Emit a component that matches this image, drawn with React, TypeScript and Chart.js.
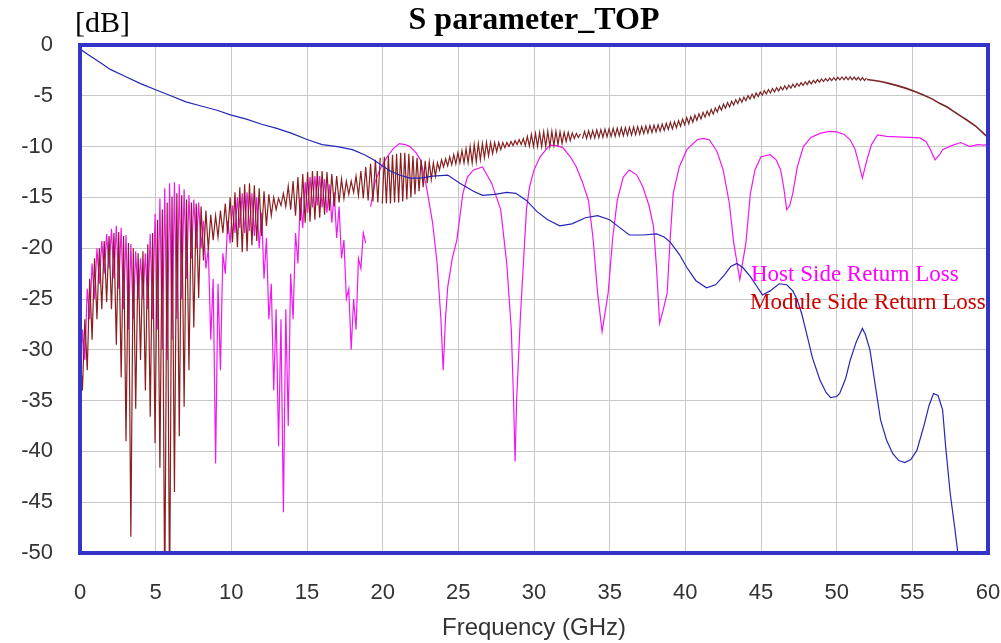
import { useEffect, useRef } from "react";
import { Chart, registerables } from "chart.js";

Chart.register(...registerables);

const titleText = "S parameter_TOP";
const unitLabel = "[dB]";
const xAxisTitle = "Frequency (GHz)";
const hostLabel = "Host Side Return Loss";
const moduleLabel = "Module Side Return Loss";

const xTickValues = [0, 5, 10, 15, 20, 25, 30, 35, 40, 45, 50, 55, 60];
const yTickValues = [0, -5, -10, -15, -20, -25, -30, -35, -40, -45, -50];

// Insertion loss (blue)
const lossFreq = [
  0, 0.1, 0.5, 1, 1.5, 2, 3, 4, 5, 6, 7, 8, 9, 10, 11, 12, 13, 14, 15, 16, 17, 18, 18.8, 19.4, 20,
  20.5, 21.1, 21.8, 22.5, 23.3, 24.3, 25.1, 26, 26.6, 27.4, 28.2, 28.8, 29.5, 30.2, 30.9, 31.7, 32.5,
  33.4, 34.2, 35, 35.6, 36.3, 37.2, 38.1, 38.6, 39, 39.6, 40.1, 40.7, 41.4, 42, 42.6, 43, 43.4, 43.8,
  44.3, 44.7, 45.1, 45.6, 46.2, 46.7, 47.1, 47.4, 47.7, 48, 48.4, 48.9, 49.3, 49.6, 50, 50.2, 50.6,
  50.9, 51.3, 51.7, 51.9, 52.2, 52.5, 52.9, 53.3, 53.7, 54.1, 54.5, 54.9, 55.3, 55.8, 56.1, 56.4,
  56.7, 57, 57.2, 57.5, 57.8, 58, 58.2,
];
const lossDb = [
  -0.3, -0.5, -0.9, -1.4, -1.9, -2.4, -3.1, -3.8, -4.4, -5.0, -5.6, -6.0, -6.4, -6.9, -7.3, -7.8, -8.2,
  -8.7, -9.3, -9.8, -10.0, -10.3, -10.8, -11.3, -11.9, -12.4, -12.8, -13.1, -13.1, -12.9, -12.8,
  -13.6, -14.4, -14.8, -14.7, -14.5, -14.6, -15.3, -16.4, -17.2, -17.8, -17.6, -17.0, -16.8, -17.2,
  -17.9, -18.7, -18.7, -18.6, -18.9, -19.4, -20.6, -21.9, -23.2, -23.9, -23.6, -22.6, -21.8, -21.5,
  -21.9, -22.8, -23.7, -24.6, -24.2, -23.5, -23.6, -24.2, -25.1, -26.5, -28.3, -30.8, -33, -34.2,
  -34.7, -34.6, -34.3, -32.8, -31, -29.2, -27.9, -28.5, -30, -33, -36.9, -38.9, -40.2, -40.9, -41.1,
  -40.8, -39.9, -37.3, -35.5, -34.3, -34.5, -35.9, -39.5, -44.1, -47.5, -49.9, -52,
];

// Module side return loss (dark red): dense ripple, sampled peak / dip
const moduleLowStart = 0;
const moduleLowStep = 0.16;
const moduleLowDb = [
  -30, -34, -27, -32, -23, -29, -21, -27, -20, -26, -19.3, -25.3, -18.8, -26, -18.5, -29.5,
  -18.4, -32.7, -18.8, -39, -19.5, -48.4, -20, -35.8, -20.5, -31, -20.3, -34, -19.6, -36.6,
  -18.5, -39.2, -17.2, -41.6, -16.2, -55, -15.5, -55, -14.9, -44, -14.6, -38.5, -14.8, -35.6,
  -15.2, -32, -15.5, -27.8, -15.6, -24.9, -15.9, -21.2, -16.3, -20.2, -16.7, -19.2, -16.8, -18.9,
  -16.3, -18.5, -15.6, -18.6, -15, -19.4, -14.5, -19.9, -14, -20.4, -13.7, -20.3, -13.6, -19.7,
  -13.8, -19.3, -14.1, -18.8, -14.4, -17.8, -14.7, -16.8, -15, -16.2, -15.1, -15.8, -14.6, -15.9,
  -13.9, -16.2, -13.4, -16.8, -13, -17.3, -12.7, -17.5, -12.5, -17.4, -12.4, -17.2, -12.4, -17,
  -12.4, -16.7, -12.5, -16.3, -12.7, -15.9, -12.9, -15.5, -13.2, -15.1, -13.4, -14.7, -13.4, -14.5,
  -12.9, -14.8, -12.4, -15.1, -12, -15.3, -11.7, -15.4, -11.3, -15.5, -11.1,
];
const moduleHighStart = 19.975;
const moduleHighStep = 0.135;
const moduleHighDb = [
  -15.6, -11, -15.6, -10.9, -15.6, -10.8, -15.5, -10.7, -15.5, -10.6, -15.4, -10.6, -15.2, -10.7,
  -15, -10.9, -14.7, -11.1, -14.4, -11.3, -14, -11.4, -13.6, -11.5, -13.2, -11.6, -12.9, -11.6,
  -12.3, -11.3, -12, -11.2, -11.9, -11, -11.8, -10.8, -11.7, -10.6, -11.6, -10.4, -11.6, -10.2,
  -11.6, -10, -11.6, -9.8, -11.5, -9.7, -11.3, -9.7, -11.1, -9.6, -10.9, -9.6, -10.7, -9.6,
  -10.5, -9.6, -10.3, -9.6, -10.1, -9.6, -10, -9.5, -9.9, -9.4, -9.8, -9.3, -9.8, -9.2,
  -9.9, -9, -9.95, -8.8, -10, -8.7, -10, -8.6, -10, -8.55, -10, -8.5, -10, -8.5,
  -9.9, -8.5, -9.8, -8.55, -9.7, -8.6, -9.5, -8.6, -9.4, -8.65, -9.2, -8.7, -9.1, -8.75,
];
const moduleMidStart = 33.205;
const moduleMidStep = 0.135;
const moduleMidDb = [
  -9.2, -8.5, -9.2, -8.45, -9.18, -8.42, -9.15, -8.35, -9.12, -8.32, -9.08, -8.28, -9.05, -8.25,
  -9.0, -8.2, -8.98, -8.18, -8.95, -8.15, -8.93, -8.13, -8.9, -8.1, -8.87, -8.07, -8.83, -8.03,
  -8.78, -8.02, -8.72, -7.98, -8.67, -7.93, -8.62, -7.88, -8.55, -7.85, -8.48, -7.78, -8.4, -7.7,
  -8.32, -7.62, -8.25, -7.55, -8.15, -7.45, -8.0, -7.3, -7.85, -7.15, -7.75, -7.05, -7.6, -6.9,
  -7.42, -6.78, -7.27, -6.63, -7.1, -6.5, -6.95, -6.35, -6.8, -6.2, -6.6, -6.0, -6.42, -5.82,
  -6.23, -5.67, -6.1, -5.54, -5.92, -5.38, -5.76, -5.24, -5.63, -5.13, -5.48, -4.98, -5.33, -4.83,
  -5.22, -4.72, -5.08, -4.62, -4.95, -4.49, -4.82, -4.38, -4.72, -4.28, -4.63, -4.21, -4.52, -4.12,
  -4.42, -4.02, -4.35, -3.95, -4.24, -3.86, -4.16, -3.78, -4.06, -3.7, -3.98, -3.62, -3.9, -3.54,
  -3.82, -3.48, -3.73, -3.41, -3.66, -3.34, -3.6, -3.3, -3.55, -3.25, -3.5, -3.22, -3.46, -3.18,
  -3.43, -3.15, -3.42, -3.14, -3.42, -3.14, -3.42, -3.16, -3.44, -3.18, -3.47, -3.21, -3.5, -3.24,
];
const moduleTailFreq = [
  52, 52.5, 53, 53.5, 54, 54.6, 55.2, 55.7, 56.3, 56.8, 57.3, 57.7, 58.2, 58.6, 59.2, 59.7, 60,
];
const moduleTailDb = [
  -3.4, -3.5, -3.62, -3.8, -4.0, -4.27, -4.6, -4.9, -5.3, -5.74, -6.1, -6.5, -7.0, -7.38, -8.0, -8.7,
  -9.1,
];

// Host side return loss (magenta)
const hostLowStart = 0;
const hostLowStep = 0.16;
const hostLowDb = [
  -36, -28, -31, -24, -27, -21.5, -25, -20, -23.5, -19.3, -22.5, -18.6, -22, -18.1, -23, -17.8,
  -24, -18, -26, -18.7, -28, -19.6, -27, -20.3, -25, -21, -25, -20.5, -26, -18.6, -27, -16.6,
  -28, -15.1, -30, -14.1, -31, -13.6, -29, -13.5, -27, -13.7, -25, -14.2, -23, -14.8, -21, -15.2,
  -20, -15.5, -20, -17.3, -22, -20, -29, -23, -41.2, -23.5, -32, -20.5, -22.5, -17.3, -19.5, -15.8,
  -18.5, -15, -18, -14.6, -18.5, -14.5, -18.3, -14.6, -18.8, -15, -20, -16.5, -23, -19, -27, -23.5,
  -34, -26, -39.5, -27, -46, -26, -37.5, -22.5, -27, -18.5, -21.5, -15, -18, -13.5, -16.5, -13,
  -16, -12.9, -15.8, -12.9, -16, -13.2, -16.5, -13.7, -17.5, -14.5, -19, -15.9, -21, -19.2, -25, -24,
  -30, -25, -28, -21, -22, -18.5, -19.5,
];
const hostTailFreq = [
  19.2, 19.5, 19.8, 20.3, 20.7, 21.1, 21.5, 21.8, 22.2, 22.5, 22.9, 23.3, 23.6, 23.85, 24, 24.15,
  24.3, 24.6, 24.9, 25.3, 25.6, 26, 26.6, 27.2, 27.8, 28.2, 28.5, 28.65, 28.75, 28.85, 29.1, 29.5,
  29.7, 30, 30.4, 30.9, 31.1, 31.5, 31.9, 32.4, 32.8, 33.2, 33.6, 33.9, 34.2, 34.5, 34.9, 35.2, 35.5,
  35.9, 36.3, 36.8, 37.2, 37.6, 37.9, 38.1, 38.3, 38.55, 38.8, 39, 39.2, 39.6, 40.1, 40.8, 41.2, 41.6,
  42.1, 42.5, 42.9, 43.2, 43.6, 44, 44.3, 44.6, 45, 45.6, 46, 46.3, 46.5, 46.7, 46.9, 47.1, 47.4,
  47.8, 48.3, 48.9, 49.5, 50, 50.5, 50.9, 51.2, 51.4, 51.7, 52, 52.3, 52.7, 53.3, 54, 54.8, 55.5,
  55.9, 56.2, 56.5, 56.8, 57, 57.6, 58.2, 58.8, 59.3, 59.7, 60,
];
const hostTailDb = [
  -15.9, -13.5, -12.3, -11, -10.2, -9.7, -9.8, -10, -10.6, -11.3, -14, -17.5, -21.5, -27, -32, -27,
  -23.8, -21, -19.2, -14.6, -13, -12.3, -12, -13.6, -16.2, -21.5, -28, -35, -41, -35, -26.8, -16.2,
  -14, -12.3, -11, -10.1, -9.85, -9.9, -10.1, -11, -12, -13.5, -15.3, -19, -24.4, -28.2, -24.4, -19,
  -15.3, -13, -12.3, -12.8, -14, -15.8, -17.9, -22, -27.4, -26, -24.4, -19, -14.6, -12, -10.3, -9.3,
  -9.2, -9.35, -10.5, -12.3, -15.5, -19.5, -23.1, -19.5, -14.6, -12.3, -11, -10.8, -11.3, -12.3, -14,
  -16.2, -15.8, -14.6, -12, -10, -9.1, -8.7, -8.5, -8.55, -8.8, -9.35, -10.2, -11.3, -13.1, -11.3,
  -9.8, -8.85, -9.0, -9.05, -9.1, -9.15, -9.5, -10.3, -11.3, -10.8, -10.3, -9.9, -9.6, -10, -9.8,
  -9.85, -9.8,
];

const SANS = '"Liberation Sans", Arial, sans-serif';
const SERIF = '"Liberation Serif", "Times New Roman", serif';

function sweep(start: number, step: number, values: number[]) {
  return values.map((y, i) => ({ x: +(start + i * step).toFixed(4), y }));
}
function pairs(freqs: number[], values: number[]) {
  return freqs.map((x, i) => ({ x, y: values[i] }));
}

const overlayPlugin = {
  id: "overlayText",
  afterDraw(chart: any) {
    const { ctx, chartArea: a } = chart;
    ctx.save();
    ctx.strokeStyle = "#3434c8";
    ctx.lineWidth = 4;
    ctx.strokeRect(a.left, a.top, a.right - a.left, a.bottom - a.top);
    ctx.textBaseline = "alphabetic";
    ctx.fillStyle = "#000";
    ctx.textAlign = "left";
    ctx.font = `30px ${SERIF}`;
    ctx.fillText(unitLabel, 75, 32);
    ctx.textAlign = "center";
    ctx.font = `bold 32px ${SERIF}`;
    ctx.fillText(titleText, (a.left + a.right) / 2, 29);
    ctx.font = `24px ${SANS}`;
    ctx.fillStyle = "#333";
    ctx.fillText(xAxisTitle, (a.left + a.right) / 2, 635);
    ctx.textAlign = "left";
    ctx.font = `23px ${SERIF}`;
    ctx.fillStyle = "#ff00ff";
    ctx.fillText(hostLabel, 751, 281);
    ctx.fillStyle = "#cc0000";
    ctx.fillText(moduleLabel, 750, 309);
    ctx.restore();
  },
};

export default function App() {
  const canvasRef = useRef<HTMLCanvasElement | null>(null);

  useEffect(() => {
    if (!canvasRef.current) return;
    const blue = "#2626b8";
    const brown = "#8a1f1f";
    const magenta = "#f018f0";
    const base = { pointRadius: 0, tension: 0, fill: false, borderWidth: 1.2 };
    const chart = new Chart(canvasRef.current, {
      type: "line",
      data: {
        datasets: [
          { ...base, label: "Insertion Loss", data: pairs(lossFreq, lossDb), borderColor: blue },
          { ...base, label: moduleLabel, data: sweep(moduleLowStart, moduleLowStep, moduleLowDb), borderColor: brown },
          { ...base, label: moduleLabel + " 2", data: sweep(moduleHighStart, moduleHighStep, moduleHighDb), borderColor: brown },
          { ...base, label: moduleLabel + " 3", data: sweep(moduleMidStart, moduleMidStep, moduleMidDb), borderColor: "#7a2424" },
          { ...base, label: moduleLabel + " 4", data: pairs(moduleTailFreq, moduleTailDb), borderColor: "#7a2424", borderWidth: 1.6 },
          { ...base, label: hostLabel, data: sweep(hostLowStart, hostLowStep, hostLowDb), borderColor: magenta },
          { ...base, label: hostLabel + " 2", data: pairs(hostTailFreq, hostTailDb), borderColor: magenta },
        ],
      },
      options: {
        animation: false,
        responsive: false,
        events: [],
        layout: { padding: { top: 45, right: 13, left: 0, bottom: 0 } },
        plugins: { legend: { display: false }, tooltip: { enabled: false }, title: { display: false } },
        scales: {
          x: {
            type: "linear",
            min: 0,
            max: 60,
            afterBuildTicks: (scale: any) => {
              scale.ticks = xTickValues.map((v) => ({ value: v }));
            },
            afterFit: (scale: any) => {
              scale.height = 90;
              scale.paddingLeft = 0;
              scale.paddingRight = 0;
            },
            grid: { color: "#c8c8c8", lineWidth: 1, drawTicks: false },
            border: { display: false },
            ticks: { font: { family: SANS, size: 22 }, color: "#333", padding: 27, maxRotation: 0 },
          },
          y: {
            type: "linear",
            min: -50,
            max: 0,
            afterBuildTicks: (scale: any) => {
              scale.ticks = yTickValues.map((v) => ({ value: v }));
            },
            afterFit: (scale: any) => {
              scale.width = 80;
              scale.paddingTop = 0;
              scale.paddingBottom = 0;
            },
            grid: { color: "#c8c8c8", lineWidth: 1, drawTicks: false },
            border: { display: false },
            ticks: { font: { family: SANS, size: 22 }, color: "#333", padding: 27 },
          },
        },
      },
      plugins: [overlayPlugin],
    });
    return () => chart.destroy();
  }, []);

  return (
    <div style={{ position: "fixed", left: 0, top: 0, width: 1001, height: 643, background: "#fff" }}>
      <canvas ref={canvasRef} width={1001} height={643} />
    </div>
  );
}
